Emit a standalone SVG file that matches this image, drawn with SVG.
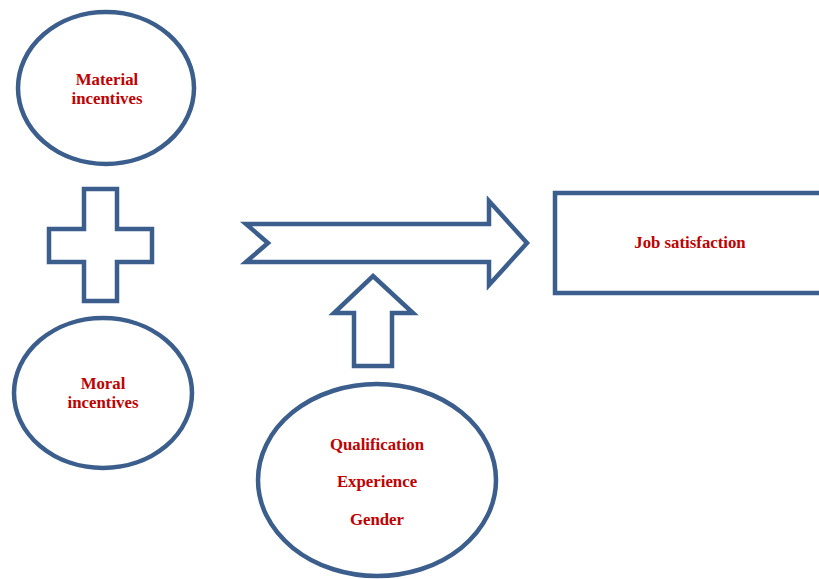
<svg xmlns="http://www.w3.org/2000/svg" width="819" height="579" viewBox="0 0 819 579">
<style>
.sh{fill:#fff;stroke:#3B5E8C;stroke-width:4.5;stroke-linejoin:miter}
.t{font-family:"Liberation Serif",serif;font-weight:bold;font-size:16.8px;fill:#C00000;text-anchor:middle}
</style>
<rect width="819" height="579" fill="#fff"/>
<g id="material">
<ellipse class="sh" cx="106" cy="88" rx="88" ry="76"/>
<text class="t" x="107" y="85">Material</text>
<text class="t" x="107" y="104">incentives</text>
</g>
<g id="plus">
<path class="sh" d="M84,189 H117 V229 H152 V262 H117 V301 H84 V262 H49 V229 H84 Z"/>
</g>
<g id="moral">
<ellipse class="sh" cx="103" cy="393" rx="89" ry="75"/>
<text class="t" x="103" y="389">Moral</text>
<text class="t" x="103" y="408">incentives</text>
</g>
<g id="job">
<rect class="sh" x="555" y="193" width="280" height="100"/>
<text class="t" x="690" y="248">Job satisfaction</text>
</g>
<g id="factors">
<ellipse class="sh" cx="377" cy="480" rx="119" ry="96"/>
<text class="t" x="377" y="450">Qualification</text>
<text class="t" x="377" y="487">Experience</text>
<text class="t" x="377" y="525">Gender</text>
</g>
<g id="connectors">
<path class="sh" d="M246,224 H489 V201 L527,243 L489,285 V262 H246 L268,243 Z"/>
<path class="sh" d="M373,276 L413,313 H392 V366 H354 V313 H334 Z"/>
</g>
</svg>
